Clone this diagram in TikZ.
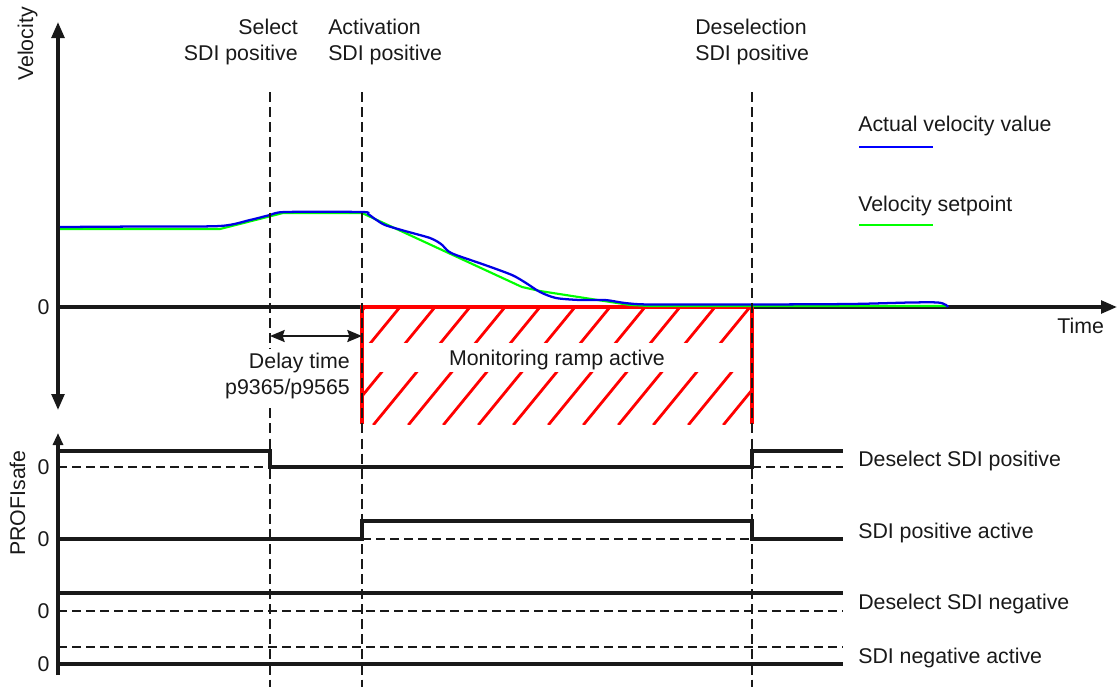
\documentclass[tikz,border=0pt]{standalone}
\usepackage{fontspec}
\setmainfont{Liberation Sans}
\usetikzlibrary{arrows.meta}
\begin{document}
\begin{tikzpicture}[x=0.75pt,y=-0.75pt,
  lbl/.style={font=\fontsize{16}{19.1}\selectfont, inner sep=0pt, text=black!90},
  axis/.style={line width=2.6pt, black!90},
  sig/.style={line width=2.4pt, black!90},
  zero/.style={line width=1.8pt, black!90, dash pattern=on 6.5pt off 4pt},
  marker/.style={line width=1.8pt, black!90, dash pattern=on 7.5pt off 3.8pt},
  hatchline/.style={red, line width=2.1pt},
  bigtip/.style={-{Triangle[length=12pt,width=9.5pt]}},
]
\useasboundingbox (0,0) rectangle (1117,687);

% ---------- axes ----------
\coordinate (vtop) at (58,22);
\coordinate (vbot) at (58,410);
\coordinate (origin) at (58,307);
\coordinate (tend) at (1117,307);
\coordinate (ptop) at (58,433);
\coordinate (pbot) at (58,675);

\draw[axis, {Triangle[length=12pt,width=9.5pt]}-{Triangle[length=12pt,width=9.5pt]}] (vtop) -- (vbot);
\draw[axis, bigtip] (origin) -- (tend);
\draw[axis, -{Triangle[length=9pt,width=7.5pt]}] (pbot) -- (ptop);

\node[lbl, rotate=90, anchor=base] (vlabel) at (33,44) {Velocity};
\node[lbl, rotate=90, anchor=base] (plabel) at (25,503) {PROFIsafe};
\node[lbl, anchor=base west] (tlabel) at (1057,333) {Time};
\node[lbl, anchor=base] (z0) at (43.5,314) {0};

% ---------- monitoring ramp (hatched area) ----------
\begin{scope}
  \clip (362,307) rectangle (752,424);
  \foreach \k in {-2,...,14} {
    \draw[hatchline] (400+35*\k,307) -- ++(-96.7,118);
  }
  \fill[white] (360,343) rectangle (754,372);
\end{scope}
\draw[red, line width=2.5pt] (362,424) -- (362,307) -- (752,307) -- (752,424);
\node[lbl, anchor=base] (ramp) at (557,365) {Monitoring ramp active};

% ---------- velocity curves ----------
\draw[green, line width=1.6pt] plot coordinates {
  (60,229) (220,229) (283,213) (362,213) (522,287) (540,291)
  (630,305) (650,306) (947,306)};
\draw[blue!90!black, line width=1.7pt] plot[smooth, tension=0.45] coordinates {
  (60,227) (140,226.5) (220,226) (250,220) (270,215) (285,212) (362,212)
  (368,214) (375,219) (385,225) (405,231) (430,238) (441,244) (448,251)
  (456,255) (485,265) (512,275) (526,283) (540,292) (556,298) (580,300)
  (605,300) (625,303) (650,304.5) (750,304.5) (850,304) (910,302.5)
  (938,302.5) (946,305) (948,307)};

% ---------- event markers ----------
\coordinate (sel) at (270,92);
\coordinate (act) at (362,92);
\coordinate (desel) at (752,92);
\draw[marker] (sel) -- (270,687);
\draw[marker] (act) -- (362,687);
\draw[marker] (desel) -- (752,687);

\node[lbl, anchor=north east, align=right] (selT) at (298,19) {Select\\SDI positive};
\node[lbl, anchor=north west, align=left] (actT) at (328,19) {Activation\\SDI positive};
\node[lbl, anchor=north west, align=left] (deselT) at (695,19) {Deselection\\SDI positive};

% delay time
\coordinate (d1) at (270,336);
\coordinate (d2) at (362,336);
\draw[line width=1.6pt, black!90, {Stealth[length=11pt,width=9pt,inset=1.5pt]}-{Stealth[length=11pt,width=9pt,inset=1.5pt]}] (d1) -- (d2);
\node[lbl, anchor=north east, align=right, fill=white, inner sep=3.5pt] (delay) at (354.7,348.3) {Delay time\\p9365/p9565};

% ---------- legend ----------
\node[lbl, anchor=base west] (legA) at (858,131) {Actual velocity value};
\draw[blue, line width=2pt] (859,147) -- (933,147);
\node[lbl, anchor=base west] (legS) at (858,211) {Velocity setpoint};
\draw[green, line width=2pt] (859,225) -- (933,225);

% ---------- PROFIsafe signals ----------
% Deselect SDI positive
\draw[zero] (58,467) -- (270,467);
\draw[zero] (752,467) -- (843,467);
\draw[sig] (58,451) -- (270,451) -- (270,467) -- (752,467) -- (752,451) -- (843,451);
\node[lbl, anchor=base] (z1) at (43.5,474) {0};
\node[lbl, anchor=base west] (s1) at (858,466) {Deselect SDI positive};

% SDI positive active
\draw[zero] (362,539) -- (752,539);
\draw[sig] (58,539) -- (362,539) -- (362,521) -- (752,521) -- (752,539) -- (843,539);
\node[lbl, anchor=base] (z2) at (43.5,546) {0};
\node[lbl, anchor=base west] (s2) at (858,538) {SDI positive active};

% Deselect SDI negative
\draw[sig] (58,593) -- (843,593);
\draw[zero] (58,611) -- (843,611);
\node[lbl, anchor=base] (z3) at (43.5,618) {0};
\node[lbl, anchor=base west] (s3) at (858,609) {Deselect SDI negative};

% SDI negative active
\draw[zero] (58,647) -- (843,647);
\draw[sig] (58,664) -- (843,664);
\node[lbl, anchor=base] (z4) at (43.5,671) {0};
\node[lbl, anchor=base west] (s4) at (858,663) {SDI negative active};
\end{tikzpicture}
\end{document}
